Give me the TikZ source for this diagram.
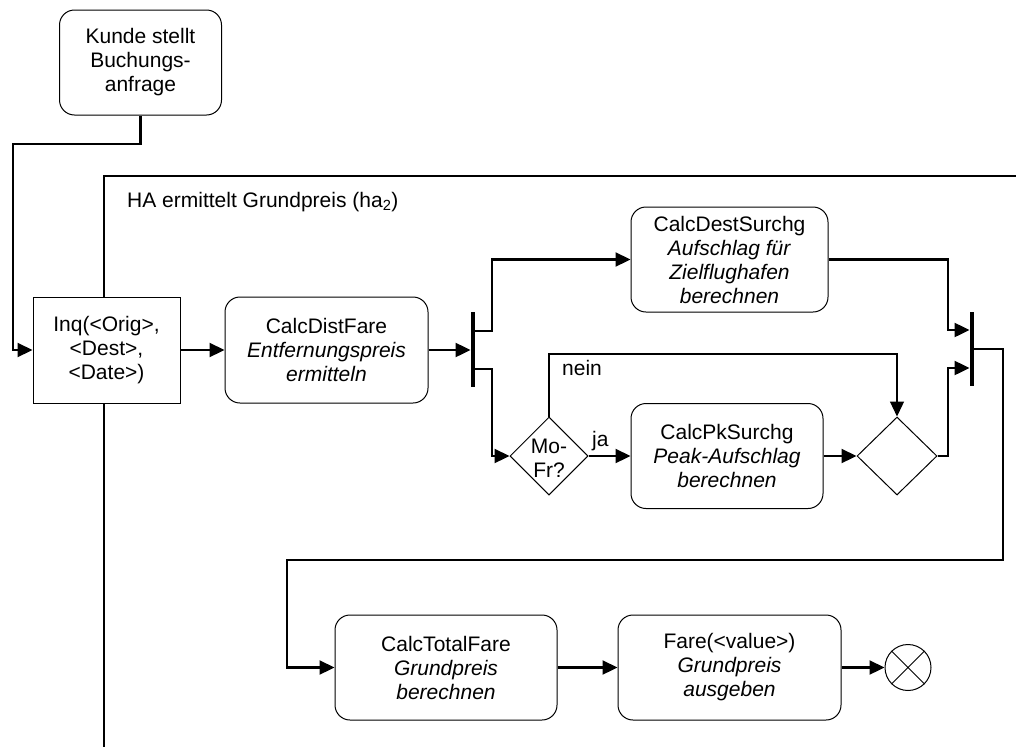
\documentclass[tikz,border=0pt]{standalone}
\usepackage{fontspec}
\setmainfont{Liberation Sans}
\usetikzlibrary{arrows.meta,shapes.geometric}
\begin{document}
\begin{tikzpicture}[x=1pt,y=-1pt,
  every node/.style={font=\fontsize{21}{24}\selectfont},
  action/.style={draw,rounded corners=15pt,line width=1pt,align=center,inner sep=0pt,fill=white},
  plainbox/.style={draw,line width=1pt,align=center,inner sep=0pt,fill=white},
  decision/.style={draw,diamond,line width=1pt,inner sep=0pt},
  syncbar/.style={fill=black,inner sep=0pt,minimum width=4.5pt},
  flow/.style={line width=2.2pt,-{Triangle[length=15pt,width=14pt]}},
  thinflow/.style={line width=1.2pt,-{Triangle[length=15pt,width=14pt]}},
  endnode/.style={draw,circle,line width=1pt,minimum size=46pt,inner sep=0pt},
  tag/.style={anchor=base west,inner sep=0pt}
]
\useasboundingbox (0,0) rectangle (1016,747);

% activity frame
\draw[line width=1.3pt] (1016,176) -- (104,176) -- (104,747);
\node[tag] (title) at (127,207) {HA ermittelt Grundpreis (ha\textsubscript{2})};

% nodes
\node[action,minimum width=162pt,minimum height=105pt] (kunde) at (140.5,62.5) {Kunde stellt\\Buchungs-\\anfrage};
\node[plainbox,minimum width=147pt,minimum height=106pt] (inq) at (106.5,350) {Inq(<Orig>,\\<Dest>,\\<Date>)};
\node[action,minimum width=203pt,minimum height=106pt] (dist) at (326.5,350) {CalcDistFare\\\textit{Entfernungspreis}\\\textit{ermitteln}};
\node[syncbar,minimum height=75pt] (fork) at (473,349.5) {};
\node[action,minimum width=197pt,minimum height=105pt] (dest) at (729.5,259.5) {CalcDestSurchg\\\textit{Aufschlag für}\\\textit{Zielflughafen}\\\textit{berechnen}};
\node[decision,minimum width=78pt,minimum height=78pt] (mofr) at (549,456) {};
\node[align=center,inner sep=0pt] (mofrtext) at (549,458) {Mo-\\Fr?};
\node[action,minimum width=192pt,minimum height=105pt] (pk) at (727,456) {CalcPkSurchg\\\textit{Peak-Aufschlag}\\\textit{berechnen}};
\node[decision,minimum width=80pt,minimum height=78pt] (merge) at (897,456) {};
\node[syncbar,minimum height=74pt] (join) at (972,349) {};
\node[action,minimum width=222pt,minimum height=105pt] (total) at (446,667.5) {CalcTotalFare\\\textit{Grundpreis}\\\textit{berechnen}};
\node[action,minimum width=223pt,minimum height=105pt] (fare) at (729.5,667.5) {Fare(<value>)\\\textit{Grundpreis}\\\textit{ausgeben}};
\node[endnode] (stop) at (908,667.5) {};
\draw[line width=1pt] (stop.45) -- (stop.225) (stop.135) -- (stop.315);

% connectors
\draw[flow] (kunde.south) |- (13,144) |- (inq.west);
\draw[flow] (inq.east) -- (dist.west);
\draw[flow] (dist.east) -- (fork.west |- dist.east);
\draw[flow] (fork.east |- 0,331) -| (492,259.5) -- (dest.west);
\draw[flow] (fork.east |- 0,369) -| (492,456) -- (mofr.west);
\draw[flow] (mofr.east) -- (pk.west);
\node[tag] (ja) at (592,446) {ja};
\draw[thinflow] (mofr.north) |- (merge.north |- 0,354) -- (merge.north);
\node[tag] (nein) at (562,375) {nein};
\draw[flow] (pk.east) -- (merge.west);
\draw[flow] (dest.east) -| (948,330) -- (join.west |- 0,330);
\draw[flow] (merge.east) -| (948,368) -- (join.west |- 0,368);
\draw[flow] (join.east) -| (1003,560) -| (287,667.5) -- (total.west);
\draw[flow] (total.east) -- (fare.west);
\draw[flow] (fare.east) -- (stop.west);
\end{tikzpicture}
\end{document}
